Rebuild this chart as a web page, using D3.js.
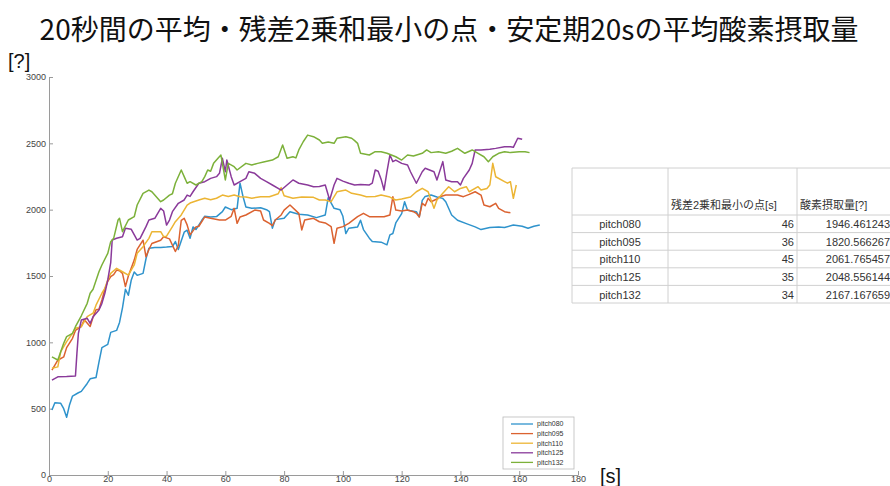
<!DOCTYPE html>
<html>
<head>
<meta charset="utf-8">
<script src="https://cdn.jsdelivr.net/npm/d3@7"></script>
<style>
  body { margin: 0; background: #fff; }
  svg text { font-family: "Liberation Sans", "Noto Sans CJK JP", sans-serif; }
  .title { font-family: "Noto Sans CJK JP", sans-serif; }
  .tick text { fill: #444; font-size: 9px; }
  .tick line, .domain { stroke: #9a9a9a; }
</style>
</head>
<body>
<div id="chart"></div>
<script>
var svgWidth = 890;
var svgHeight = 486;

// series data: [seconds, value]
var pitch080 = [[1,490],[2,545],[4,540],[5,500],[6,435],[7,530],[8,595],[10,620],[11,630],[13,690],[14,725],[16,735],[17,850],[18,960],[20,985],[21,1075],[23,1090],[24,1150],[25,1260],[26,1400],[27,1355],[28,1470],[29,1530],[30,1505],[32,1520],[33,1630],[34,1710],[36,1715],[38,1715],[40,1718],[42,1722],[43,1760],[44,1700],[46,1830],[47,1845],[48,1785],[49,1870],[50,1850],[52,1920],[53,1950],[55,1945],[57,1948],[59,1985],[60,2020],[62,2000],[64,2010],[65,2200],[66,2100],[67,2020],[69,2010],[72,2015],[74,2000],[75,1985],[76,1860],[77,1925],[80,1935],[82,1985],[85,1965],[88,1960],[91,1940],[94,1960],[95,2090],[97,2010],[99,2000],[100,1950],[101,1820],[102,1860],[105,1870],[106,1920],[107,1850],[109,1785],[110,1760],[113,1755],[115,1735],[116,1810],[117,1820],[118,1900],[120,1970],[121,2060],[122,1995],[125,1985],[126,1945],[127,2070],[128,2100],[130,2110],[132,2095],[134,2085],[135,2060],[137,1960],[139,1920],[142,1895],[145,1870],[147,1850],[150,1865],[153,1870],[155,1865],[158,1885],[161,1875],[163,1860],[165,1875],[167,1885]];
var pitch095 = [[1,790],[3,865],[5,890],[6,960],[8,1030],[9,1090],[11,1120],[12,1170],[14,1120],[15,1190],[16,1245],[17,1250],[18,1320],[19,1400],[20,1460],[21,1495],[22,1510],[23,1545],[24,1540],[25,1520],[26,1420],[27,1500],[29,1620],[30,1700],[32,1770],[33,1645],[34,1700],[35,1745],[38,1770],[39,1795],[41,1780],[43,1685],[44,1730],[45,1920],[46,1935],[47,1885],[48,1810],[50,1870],[51,1875],[53,1945],[55,1935],[58,1922],[60,1922],[62,1950],[63,2010],[64,1897],[65,1945],[67,1960],[70,1997],[72,1990],[73,1922],[75,1897],[76,1880],[77,1922],[79,1960],[80,1997],[82,2035],[85,1972],[86,1847],[87,1922],[90,1935],[92,1909],[94,1900],[96,1872],[97,1746],[98,1860],[100,1872],[102,1897],[105,1947],[107,1972],[109,1947],[112,1947],[114,1947],[116,1960],[117,2098],[118,1997],[120,1990],[122,1997],[124,1985],[125,1972],[126,1945],[127,2048],[128,2030],[129,2086],[130,2060],[132,2080],[133,2098],[135,2110],[139,2110],[141,2098],[143,2115],[145,2135],[147,2110],[148,2035],[150,2022],[152,2048],[153,2010],[155,1985],[157,1977]];
var pitch110 = [[1,805],[3,815],[4,930],[6,1005],[8,1068],[9,1106],[11,1118],[13,1193],[15,1220],[16,1280],[18,1370],[19,1407],[20,1470],[21,1520],[23,1558],[25,1532],[27,1507],[29,1583],[30,1671],[32,1721],[34,1784],[35,1834],[38,1834],[39,1796],[40,1800],[42,1872],[43,1909],[45,1960],[47,2035],[48,2050],[51,2073],[53,2086],[55,2075],[57,2086],[59,2110],[61,2100],[63,2110],[65,2098],[67,2095],[69,2086],[72,2098],[75,2098],[78,2120],[79,2166],[80,2105],[83,2086],[86,2095],[90,2093],[92,2073],[94,2073],[96,2060],[98,2135],[101,2148],[103,2123],[106,2110],[108,2098],[111,2100],[113,2110],[116,2095],[118,2073],[120,2080],[123,2095],[125,2135],[127,2161],[129,2135],[131,2010],[132,2073],[134,2123],[136,2173],[138,2135],[140,2160],[142,2173],[143,2135],[146,2173],[147,2148],[149,2160],[150,2186],[151,2349],[152,2248],[155,2211],[156,2200],[157,2211],[158,2086],[159,2186]];
var pitch125 = [[1,715],[3,740],[6,742],[9,746],[9.5,917],[10,1068],[11,1168],[13,1181],[14,1143],[15,1193],[17,1244],[18,1294],[19,1370],[20,1470],[21,1600],[21.5,1771],[23,1784],[25,1796],[26,1860],[28,1852],[30,1771],[31,1784],[33,1872],[34,1922],[36,1935],[38,2010],[39,1990],[40,1884],[41,1922],[42,1985],[44,2048],[46,2073],[47,2110],[48,2100],[49,2135],[51,2199],[53,2211],[55,2236],[57,2249],[58,2274],[59,2387],[60,2286],[60.5,2374],[62,2249],[63,2186],[65,2211],[67,2236],[68,2286],[70,2274],[72,2236],[74,2211],[76,2186],[79,2148],[81,2186],[83,2224],[85,2199],[88,2186],[90,2173],[92,2175],[94,2186],[95.5,2073],[97,2186],[98,2236],[100,2215],[102,2199],[104,2186],[106,2190],[109,2186],[110,2200],[111,2299],[112,2290],[113,2230],[114,2148],[115,2286],[116,2412],[117,2362],[118,2374],[120,2349],[122,2337],[123,2286],[125,2199],[127,2286],[128,2312],[131,2286],[132,2224],[134,2362],[135,2224],[137,2211],[139,2211],[140,2186],[141,2236],[143,2299],[144,2349],[145,2450],[147,2450],[150,2455],[152,2462],[155,2475],[157,2475],[158,2470],[159.5,2538],[161,2530]];
var pitch132 = [[1,890],[3,867],[5,993],[6,1043],[8,1068],[9,1118],[11,1200],[13,1294],[14,1370],[15,1400],[17,1532],[18,1583],[20,1671],[21,1759],[22,1784],[23.5,1922],[24,1935],[25,1834],[27,1922],[29,1947],[30,2035],[32,2123],[34,2148],[35,2135],[38,2060],[39,2073],[41,2110],[42,2120],[43,2199],[45,2299],[46,2249],[47,2199],[48,2211],[50,2186],[52,2211],[53,2249],[54,2299],[55,2290],[56,2349],[57.5,2387],[58.5,2412],[59,2349],[60,2224],[61,2349],[63,2324],[64,2299],[67,2349],[69,2337],[71,2349],[73,2360],[76,2374],[78,2399],[79.5,2487],[81,2387],[83,2399],[84,2390],[85,2450],[86.5,2512],[88,2562],[90,2550],[92,2525],[93,2500],[95,2510],[97,2500],[98,2538],[101,2550],[103,2538],[104,2520],[105,2500],[106,2425],[109,2412],[111,2437],[113,2437],[115,2425],[118,2399],[120,2374],[122,2412],[124,2405],[127,2425],[128.5,2450],[130,2430],[132.5,2437],[135,2425],[137,2440],[139,2462],[141.5,2425],[144,2450],[146,2425],[148,2399],[149.5,2362],[151,2399],[153,2425],[155,2437],[157,2430],[160,2437],[162,2437],[163.5,2430]];

var seriesNames = ["pitch080", "pitch095", "pitch110", "pitch125", "pitch132"];
var seriesValues = [pitch080, pitch095, pitch110, pitch125, pitch132];
var colors = ["#2f93cc", "#db6230", "#ecb534", "#8a3a9a", "#7cb13a"];

// table values
var tableHeader = ["", "残差2乗和最小の点[s]", "酸素摂取量[?]"];
var minPoint = [46, 36, 45, 35, 34];
var oxygen = ["1946.461243", "1820.566267", "2061.765457", "2048.556144", "2167.167659"];

var xTicks = [0, 20, 40, 60, 80, 100, 120, 140, 160, 180];
var yTicks = [0, 500, 1000, 1500, 2000, 2500, 3000];

var svg = d3.select("#chart")
    .append("svg")
    .attr("width", svgWidth)
    .attr("height", svgHeight);

// title
svg.append("text")
    .attr("class", "title")
    .attr("x", 449)
    .attr("y", 40)
    .attr("text-anchor", "middle")
    .attr("font-size", 28)
    .attr("fill", "#111")
    .text("20秒間の平均・残差2乗和最小の点・安定期20sの平均酸素摂取量");

svg.append("text")
    .attr("x", 8)
    .attr("y", 68)
    .attr("font-size", 20)
    .attr("fill", "#111")
    .text("[?]");

svg.append("text")
    .attr("x", 600)
    .attr("y", 483)
    .attr("font-size", 20)
    .attr("fill", "#111")
    .text("[s]");

//Create scale functions
var xScale = d3.scaleLinear().domain([0, 180]).range([49, 578]);
var yScale = d3.scaleLinear().domain([0, 3000]).range([475, 77]);

//Axes (ticks inward)
svg.append("g")
    .attr("transform", "translate(0, 475)")
    .call(d3.axisBottom(xScale).tickValues(xTicks).tickFormat(d3.format("d")).tickSizeInner(-4).tickSizeOuter(0).tickPadding(1));

svg.append("g")
    .attr("transform", "translate(49, 0)")
    .call(d3.axisLeft(yScale).tickValues(yTicks).tickFormat(d3.format("d")).tickSizeInner(-4).tickSizeOuter(0).tickPadding(3));

svg.selectAll(".domain").attr("stroke", "#9a9a9a");

//Lines
var line = d3.line()
    .x(d => xScale(d[0]))
    .y(d => yScale(d[1]));

svg.append("g").selectAll("path")
    .data(seriesValues)
    .enter()
    .append("path")
    .attr("d", d => line(d))
    .attr("fill", "none")
    .attr("stroke", (d, i) => colors[i])
    .attr("stroke-width", 1.5)
    .attr("stroke-linejoin", "round");

//Legend
var legend = svg.append("g").attr("transform", "translate(503, 417)");
legend.append("rect")
    .attr("width", 71)
    .attr("height", 52)
    .attr("fill", "#fff")
    .attr("stroke", "#bbb")
    .attr("stroke-width", 0.8);

var legendItem = legend.selectAll(".item")
    .data(seriesNames)
    .enter()
    .append("g")
    .attr("transform", (d, i) => `translate(0, ${7 + i * 9.6})`);

legendItem.append("line")
    .attr("x1", 8).attr("x2", 30)
    .attr("stroke", (d, i) => colors[i])
    .attr("stroke-width", 1.3);

legendItem.append("text")
    .attr("x", 34)
    .attr("dy", "0.35em")
    .attr("font-size", 7)
    .attr("fill", "#333")
    .text(d => d);

//Table
var colX = [572, 668, 797, 905];
var headerTop = 168, headerBottom = 215, rowH = 17.6;
var table = svg.append("g");
var rowYs = [headerTop, headerBottom].concat(d3.range(1, 6).map(i => headerBottom + i * rowH));

table.selectAll(".hline")
    .data(rowYs)
    .enter()
    .append("line")
    .attr("x1", colX[0]).attr("x2", colX[3])
    .attr("y1", d => d).attr("y2", d => d)
    .attr("stroke", "#d0d0d0");

table.selectAll(".vline")
    .data(colX)
    .enter()
    .append("line")
    .attr("x1", d => d).attr("x2", d => d)
    .attr("y1", headerTop).attr("y2", rowYs[rowYs.length - 1])
    .attr("stroke", "#d0d0d0");

table.append("text")
    .attr("x", 671).attr("y", headerBottom - 6)
    .attr("font-size", 11).attr("fill", "#333")
    .attr("font-family", "Noto Sans CJK JP")
    .text(tableHeader[1]);

table.append("text")
    .attr("x", 800).attr("y", headerBottom - 6)
    .attr("font-size", 11).attr("fill", "#333")
    .attr("font-family", "Noto Sans CJK JP")
    .text(tableHeader[2]);

seriesNames.forEach(function(name, i) {
    var y = headerBottom + (i + 1) * rowH - 4.5;
    table.append("text")
        .attr("x", 620).attr("y", y)
        .attr("text-anchor", "middle")
        .attr("font-size", 11).attr("fill", "#333")
        .text(name);
    table.append("text")
        .attr("x", 794).attr("y", y)
        .attr("text-anchor", "end")
        .attr("font-size", 11).attr("fill", "#333")
        .text(minPoint[i]);
    table.append("text")
        .attr("x", 890).attr("y", y)
        .attr("text-anchor", "end")
        .attr("font-size", 11).attr("fill", "#333")
        .text(oxygen[i]);
});
</script>
</body>
</html>
